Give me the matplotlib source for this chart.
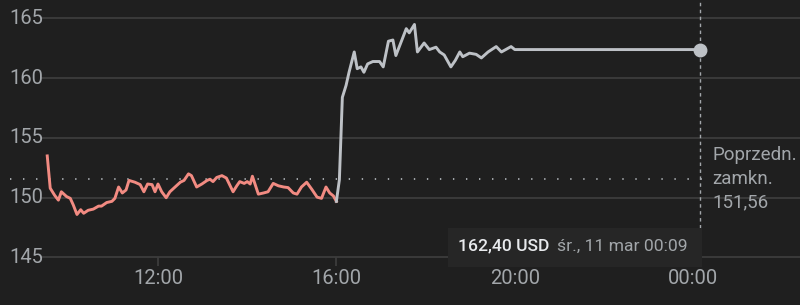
import matplotlib
matplotlib.use("Agg")
import matplotlib.pyplot as plt
from matplotlib.patches import Rectangle

# ---------------- data ----------------
session_times = ["09:31", "09:35", "09:41", "09:46", "09:50", "09:57", "10:02", "10:06", "10:11", "10:16",
                 "10:20", "10:26", "10:33", "10:40", "10:44", "10:51", "10:58", "11:02", "11:07", "11:12",
                 "11:17", "11:21", "11:29", "11:36", "11:41", "11:46", "11:52", "11:56", "12:00", "12:05",
                 "12:11", "12:16", "12:23", "12:30", "12:35", "12:41", "12:45", "12:52", "12:59", "13:06",
                 "13:10", "13:14", "13:19", "13:26", "13:32", "13:41", "13:46", "13:50", "13:56", "14:00",
                 "14:04", "14:07", "14:15", "14:22", "14:28", "14:35", "14:42", "14:49", "14:55", "15:02",
                 "15:07", "15:13", "15:20", "15:27", "15:34", "15:40", "15:46", "15:51", "15:56", "16:00"]
session_prices = [153.5, 150.8, 150.2, 149.8, 150.5, 150.1, 149.95, 149.4, 148.6, 149.0,
                  148.7, 148.95, 149.05, 149.3, 149.3, 149.6, 149.7, 149.95, 150.9, 150.4,
                  150.65, 151.45, 151.3, 151.1, 150.5, 151.15, 151.1, 150.5, 151.15, 150.5,
                  150.0, 150.5, 150.9, 151.3, 151.45, 152.0, 151.85, 150.9, 151.15, 151.45,
                  151.55, 151.35, 151.7, 151.85, 151.65, 150.5, 151.0, 151.35, 151.2, 151.35,
                  151.15, 151.8, 150.3, 150.4, 150.5, 151.2, 151.0, 150.9, 150.85, 150.4,
                  150.3, 150.9, 151.3, 150.7, 150.05, 149.95, 150.9, 150.4, 150.15, 149.7]

after_times = ["16:00", "16:04", "16:08", "16:13", "16:17", "16:24", "16:28", "16:33", "16:37", "16:42",
               "16:49", "16:58", "17:03", "17:10", "17:16", "17:20", "17:34", "17:38", "17:45", "17:49",
               "17:58", "18:05", "18:14", "18:19", "18:25", "18:34", "18:40", "18:46", "18:50", "18:59",
               "19:08", "19:15", "19:24", "19:35", "19:42", "19:55", "20:00", "00:09"]
after_prices = [149.7, 151.5, 158.4, 159.4, 160.5, 162.2, 160.8, 160.95, 160.5, 161.2,
                161.4, 161.4, 160.95, 163.1, 163.2, 161.9, 164.15, 163.8, 164.5, 162.2,
                162.95, 162.4, 162.6, 162.2, 161.95, 160.95, 161.5, 162.2, 161.8, 162.1,
                162.0, 161.7, 162.2, 162.65, 162.2, 162.65, 162.4, 162.4]

prev_close = 151.56
prev_close_label = "Poprzedn.\nzamkn.\n151,56"
y_ticks = [145, 150, 155, 160, 165]
x_ticks = [12, 16, 20, 24]
x_tick_labels = ["12:00", "16:00", "20:00", "00:00"]
tooltip_price = "162,40 USD"
tooltip_date = "śr., 11 mar 00:09"


def to_hours(times):
    out = []
    prev = -1
    for t in times:
        h, m = t.split(":")
        v = int(h) + int(m) / 60
        while v < prev:
            v += 24
        out.append(v)
        prev = v
    return out


sx = to_hours(session_times)
ax_ = to_hours(after_times)

# ---------------- style ----------------
BG = "#1f1f1f"
GRID = "#3c3c3c"
TXT = "#a2a6aa"
RED = "#f28b82"
GRAY = "#bdc1c6"
FONT = "Roboto"

# pixel -> data helpers (layout only)
def px_h(x):
    return 12 + (x - 158) / 44.6

def py_v(y):
    return 165 - (y - 18.5) / 11.95

fig = plt.figure(figsize=(8, 3.05), dpi=100, facecolor=BG)
ax = fig.add_axes([0, 0, 1, 1])
ax.set_facecolor(BG)
ax.set_xlim(px_h(0), px_h(800))
ax.set_ylim(py_v(305), py_v(0))
ax.axis("off")

# gridlines + y labels
for v in y_ticks:
    ax.hlines(v, px_h(40), px_h(800), color=GRID, lw=1.3, zorder=1)
    ax.text(px_h(9), v, str(v), color=TXT, fontsize=14.5, family=FONT,
            ha="left", va="center", zorder=3)

# x tick marks and labels
for h, lab in zip(x_ticks, x_tick_labels):
    ax.vlines(h, py_v(266), 145, color=GRID, lw=1.3, zorder=1)
    ax.text(h, py_v(279), lab, color=TXT, fontsize=14.5, family=FONT,
            ha="center", va="center", zorder=3)

# previous close dotted line
ax.plot([px_h(10), px_h(708)], [prev_close, prev_close], color=TXT, lw=1.4,
        linestyle=(0, (0.7, 6.0)), zorder=2)
ax.text(px_h(712), prev_close + 0.05, prev_close_label, color=TXT, fontsize=13.5,
        family=FONT, ha="left", va="center", linespacing=1.42, zorder=3)

# vertical cursor line
ax.vlines(ax_[-1], py_v(228), py_v(0), color=TXT, lw=1.0, linestyle=(0, (2.5, 2.5)), zorder=2)

# price lines
ax.plot(sx, session_prices, color=RED, lw=2.1, zorder=4, solid_joinstyle="round")
ax.plot(ax_, after_prices, color=GRAY, lw=2.1, zorder=4, solid_joinstyle="round")
ax.plot([ax_[-1]], [after_prices[-1]], "o", color=GRAY, ms=9, zorder=5)

# tooltip box
x0, x1 = px_h(448), px_h(702)
y0, y1 = py_v(267), py_v(228)
ax.add_patch(Rectangle((x0, y0), x1 - x0, y1 - y0, facecolor="#262626",
                       edgecolor="none", zorder=6))
ax.text(px_h(458), py_v(246), tooltip_price, color="#e8eaed", fontsize=12.6,
        family=FONT, fontweight="medium", ha="left", va="center", zorder=7)
ax.text(px_h(557), py_v(246), tooltip_date, color=TXT, fontsize=12.6,
        family=FONT, ha="left", va="center", zorder=7)

fig.savefig("out.png", dpi=100, facecolor=BG)
